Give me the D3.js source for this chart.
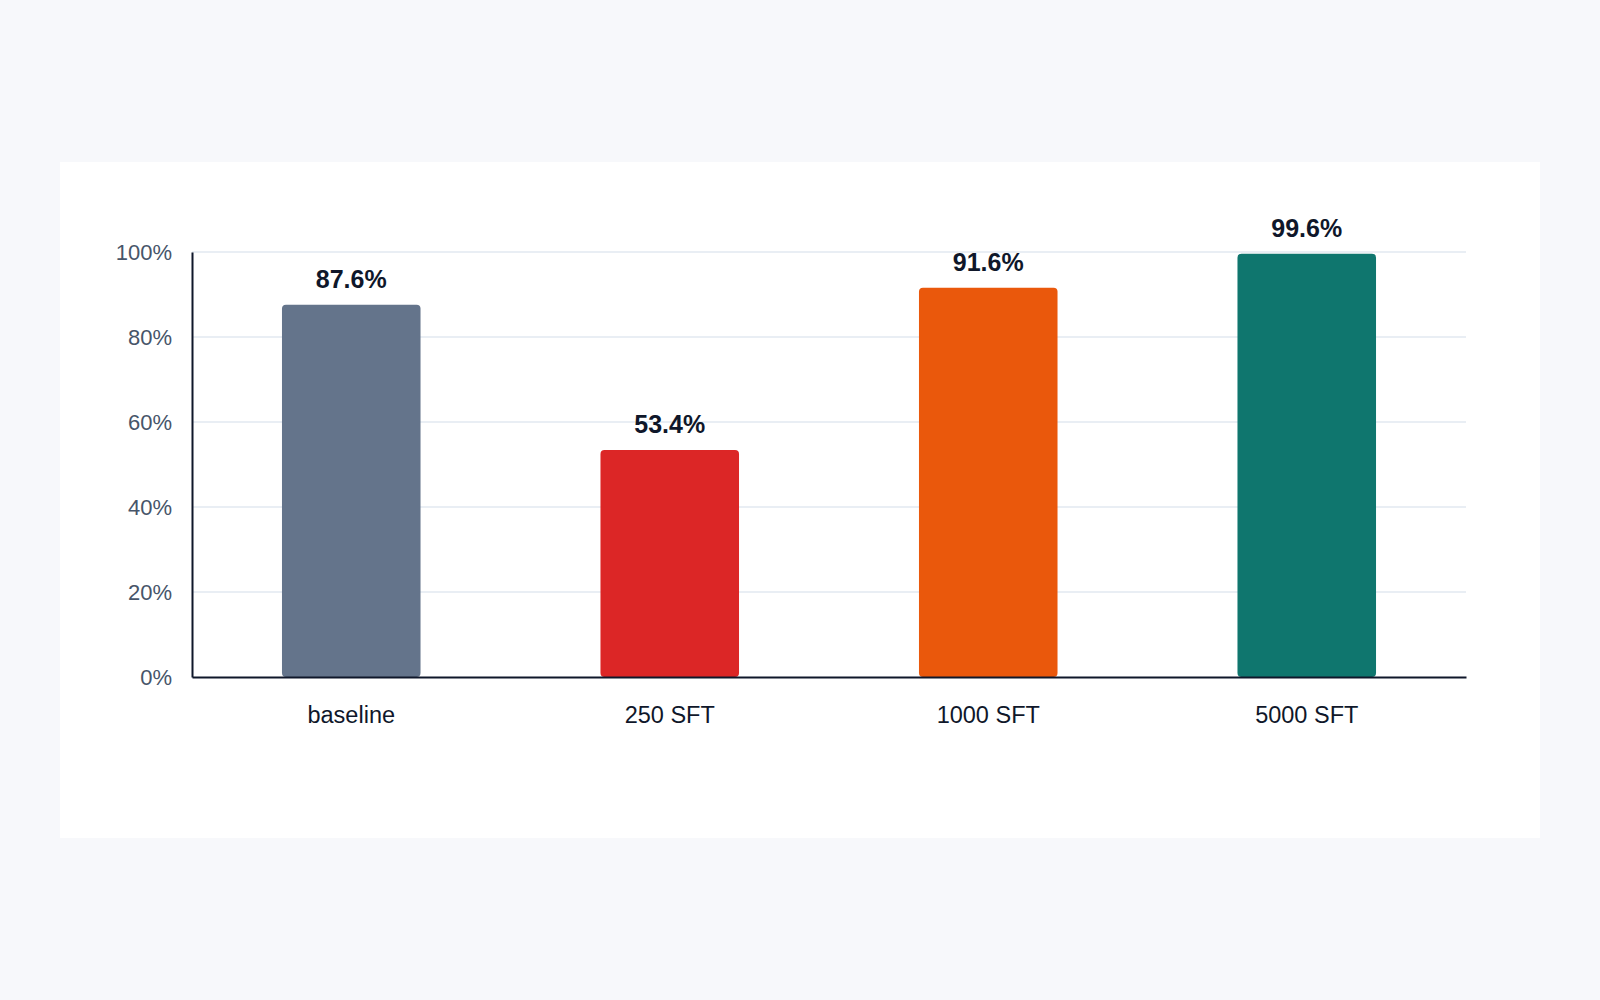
<!DOCTYPE html>
<html>
<head>
<meta charset="utf-8">
<script src="https://cdn.jsdelivr.net/npm/d3@7"></script>
<style>
  html, body { margin: 0; padding: 0; background: #f7f8fb; }
  svg { display: block; }
</style>
</head>
<body>
<div id="chart"></div>
<script>
// Chart data
const categories = ["baseline", "250 SFT", "1000 SFT", "5000 SFT"];
const values = [87.6, 53.4, 91.6, 99.6];
const barColors = ["#64748b", "#dc2626", "#ea580c", "#0f766e"];
const yTicks = [0, 20, 40, 60, 80, 100];

const width = 1600, height = 1000;
const margin = { top: 252, right: 134, bottom: 323, left: 192 };

const svg = d3.select("#chart").append("svg")
  .attr("width", width)
  .attr("height", height);

// white card behind the chart
svg.append("rect")
  .attr("x", 60).attr("y", 162)
  .attr("width", 1480).attr("height", 676)
  .attr("fill", "#ffffff");

const x = d3.scaleBand()
  .domain(categories)
  .range([margin.left, width - margin.right])
  .paddingInner(0.565)
  .paddingOuter(0.2825);

const y = d3.scaleLinear()
  .domain([0, 100])
  .range([height - margin.bottom, margin.top]);

// gridlines
svg.append("g")
  .selectAll("line")
  .data(yTicks.filter(d => d > 0))
  .join("line")
  .attr("x1", margin.left)
  .attr("x2", width - margin.right)
  .attr("y1", d => y(d))
  .attr("y2", d => y(d))
  .attr("stroke", "#e2e8f0")
  .attr("stroke-width", 1.5);

// y axis labels
const yAxis = svg.append("g")
  .attr("transform", `translate(${margin.left},0)`)
  .call(d3.axisLeft(y).tickValues(yTicks).tickSize(0).tickPadding(20).tickFormat(d => d + "%"));
yAxis.select(".domain").attr("stroke", "#0f172a").attr("stroke-width", 2);
yAxis.selectAll("text")
  .attr("fill", "#475569")
  .style("font-family", "'Liberation Sans', Arial, Helvetica, sans-serif")
  .style("font-size", "22px");

// bars
svg.append("g")
  .selectAll("rect")
  .data(values)
  .join("rect")
  .attr("x", (d, i) => x(categories[i]))
  .attr("y", d => y(d))
  .attr("width", x.bandwidth())
  .attr("height", d => y(0) - y(d))
  .attr("rx", 4)
  .attr("fill", (d, i) => barColors[i]);

// value labels
svg.append("g")
  .selectAll("text")
  .data(values)
  .join("text")
  .attr("x", (d, i) => x(categories[i]) + x.bandwidth() / 2)
  .attr("y", d => y(d) - 17)
  .attr("text-anchor", "middle")
  .attr("fill", "#0f172a")
  .style("font-family", "'Liberation Sans', Arial, Helvetica, sans-serif")
  .style("font-size", "25px")
  .style("font-weight", "bold")
  .text(d => d.toFixed(1) + "%");

// x axis
const xAxis = svg.append("g")
  .attr("transform", `translate(0,${y(0)})`)
  .call(d3.axisBottom(x).tickSize(0).tickPadding(29).tickSizeOuter(0));
xAxis.select(".domain").attr("stroke", "#0f172a").attr("stroke-width", 2);
xAxis.selectAll("text")
  .attr("fill", "#0f172a")
  .style("font-family", "'Liberation Sans', Arial, Helvetica, sans-serif")
  .style("font-size", "23.5px");
</script>
</body>
</html>
